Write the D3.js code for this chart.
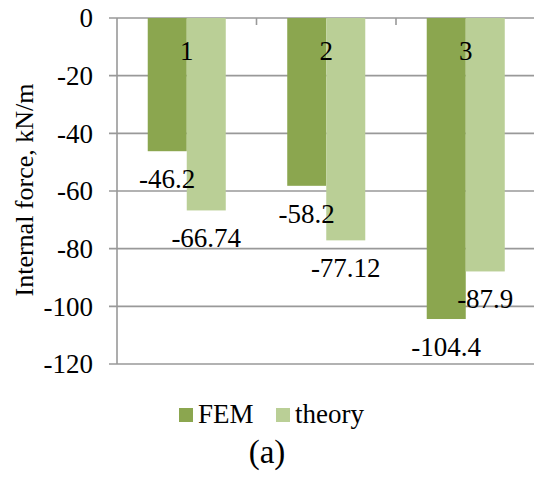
<!DOCTYPE html>
<html><head><meta charset="utf-8">
<script src="https://cdn.jsdelivr.net/npm/d3@7"></script>
<style>body{margin:0;background:#fff}svg{display:block}</style>
</head><body><svg id="c" width="534" height="478"></svg>
<script>
const categories = ["1","2","3"];
const seriesNames = ["FEM","theory"];
const femValues = [-46.2, -58.2, -104.4];
const theoryValues = [-66.74, -77.12, -87.9];
const femLabels = ["-46.2","-58.2","-104.4"];
const theoryLabels = ["-66.74","-77.12","-87.9"];
const yTicks = [0,-20,-40,-60,-80,-100,-120];
const colors = {FEM:"#8BA64F", theory:"#BACF96"};
const FONT = "Liberation Serif";

const svg = d3.select("#c");
const L = 117, R = 535.5, T = 18, B = 364;
const y = d3.scaleLinear().domain([0,-120]).range([T,B]);
const x = d3.scaleBand().domain(categories).range([L,R]);
const xs = d3.scaleBand().domain(seriesNames).range([0,x.bandwidth()]).paddingInner(0).paddingOuter(0.788);

svg.append("g").selectAll("line").data(yTicks).join("line")
  .attr("x1",L-8).attr("x2",R).attr("y1",d=>y(d)).attr("y2",d=>y(d))
  .attr("stroke","#999").attr("stroke-width",1.6);
svg.append("g").selectAll("line").data(categories.slice(1)).join("line")
  .attr("x1",d=>x(d)).attr("x2",d=>x(d)).attr("y1",T).attr("y2",T+7)
  .attr("stroke","#999").attr("stroke-width",1.6);

const data = [];
categories.forEach((c,i)=>{
  data.push({c, s:"FEM", v:femValues[i], l:femLabels[i]});
  data.push({c, s:"theory", v:theoryValues[i], l:theoryLabels[i]});
});
svg.append("g").selectAll("rect").data(data).join("rect")
  .attr("x",d=>x(d.c)+xs(d.s)).attr("width",xs.bandwidth())
  .attr("y",y(0)).attr("height",d=>y(d.v)-y(0))
  .attr("fill",d=>colors[d.s]);

svg.append("line").attr("x1",L).attr("x2",L).attr("y1",T).attr("y2",B)
  .attr("stroke","#999").attr("stroke-width",1.6);

function txt(sel){ return sel.attr("font-family",FONT).attr("fill","#000"); }

txt(svg.append("g").selectAll("text").data(yTicks).join("text"))
  .attr("x",93).attr("y",d=>y(d)).attr("dy","0.34em").attr("text-anchor","end")
  .attr("font-size",27).text(d=>d===0?"0":"-"+Math.abs(d));

txt(svg.append("g").selectAll("text").data(categories).join("text"))
  .attr("x",d=>x(d)+x.bandwidth()/2).attr("y",60).attr("text-anchor","middle")
  .attr("font-size",27).text(d=>d);

txt(svg.append("g").selectAll("text").data(data).join("text"))
  .attr("x",d=>x(d.c)+xs(d.s)+xs.bandwidth()/2).attr("y",d=>y(d.v)+37)
  .attr("text-anchor","middle").attr("font-size",27).text(d=>d.l);

txt(svg.append("text")).attr("transform","translate(33,190) rotate(-90)")
  .attr("text-anchor","middle").attr("font-size",26).text("Internal force, kN/m");

const leg = [{s:"FEM",x:179,tx:198},{s:"theory",x:276,tx:295}];
leg.forEach(o=>{
  svg.append("rect").attr("x",o.x).attr("y",408).attr("width",14).attr("height",14).attr("fill",colors[o.s]);
  txt(svg.append("text")).attr("x",o.tx).attr("y",423).attr("font-size",27).text(o.s);
});
txt(svg.append("text")).attr("x",267).attr("y",463).attr("text-anchor","middle").attr("font-size",33).text("(a)");
</script></body></html>
